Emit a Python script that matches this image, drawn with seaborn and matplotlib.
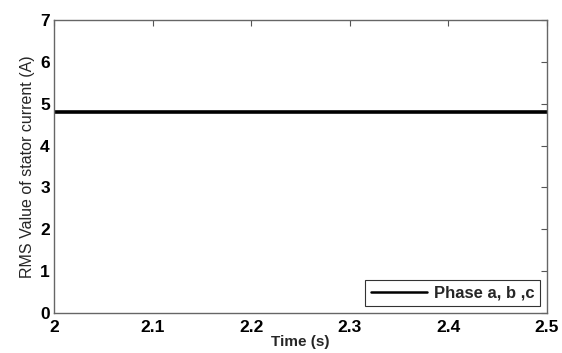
import numpy as np
import pandas as pd
import matplotlib
matplotlib.use("Agg")
import matplotlib.pyplot as plt
import seaborn as sns

# Data
time_s = [2.0, 2.1, 2.2, 2.3, 2.4, 2.5]
rms_current = [4.8, 4.8, 4.8, 4.8, 4.8, 4.8]
series_label = "Phase a, b ,c"
x_ticks = [2, 2.1, 2.2, 2.3, 2.4, 2.5]
x_ticklabels = ["2", "2.1", "2.2", "2.3", "2.4", "2.5"]
y_ticks = [0, 1, 2, 3, 4, 5, 6, 7]

sns.set_theme(style="white")
plt.rcParams['font.family'] = ['Liberation Sans', 'DejaVu Sans']

df = pd.DataFrame({"Time": time_s, "RMS": rms_current, "Series": series_label})

fig = plt.figure(figsize=(5.62, 3.53), dpi=100)
ax = fig.add_axes([54/562, 1 - 313/353, (547-54)/562, (313-20)/353])

sns.lineplot(data=df, x="Time", y="RMS", hue="Series", palette=["black"],
             linewidth=2.6, ax=ax)

ax.set_xlim(2, 2.5)
ax.set_ylim(0, 7)
ax.set_xticks(x_ticks)
ax.set_xticklabels(x_ticklabels)
ax.set_yticks(y_ticks)

for lab in ax.get_xticklabels() + ax.get_yticklabels():
    lab.set_fontweight("bold")
    lab.set_fontsize(12.5)

ax.tick_params(direction="in", top=True, right=True, length=4, width=0.8,
               color="#555555", pad=3, colors="black")
ax.tick_params(axis="x", pad=5)
ax.tick_params(axis="both", which="both", color="#555555")

for s in ax.spines.values():
    s.set_color("#666666")
    s.set_linewidth(1.0)

ax.set_xlabel("Time (s)", fontsize=11, fontweight="bold", labelpad=0)
ax.set_ylabel("RMS Value of stator current (A)", fontsize=11.5, labelpad=4)

leg = ax.legend(loc="lower right", frameon=True, fancybox=False,
                prop={"weight": "bold", "size": 12},
                handlelength=3.4, borderpad=0.35, handletextpad=0.4,
                borderaxespad=0.4)
leg.get_frame().set_edgecolor("black")
leg.get_frame().set_linewidth(0.8)
for line in leg.get_lines():
    line.set_linewidth(1.8)

fig.savefig("out.png", dpi=100)
